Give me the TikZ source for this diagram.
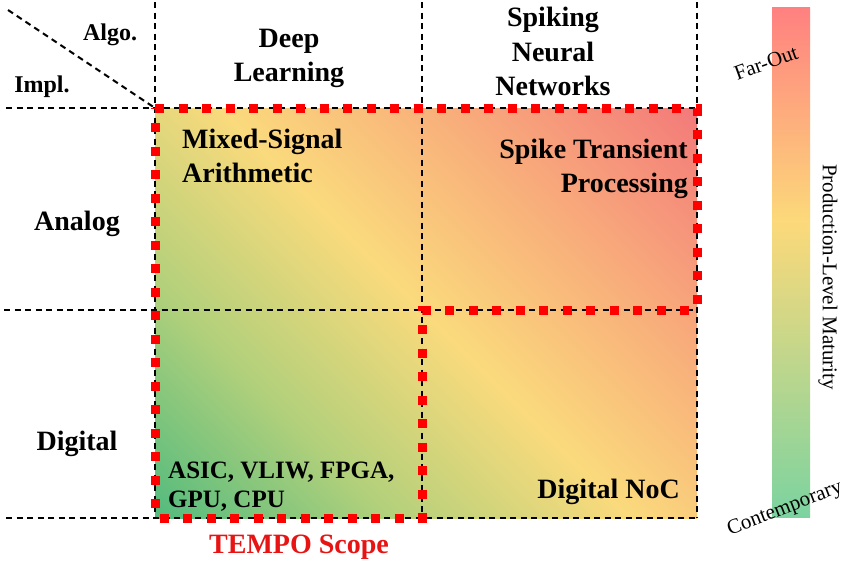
\documentclass[tikz,border=0pt]{standalone}
\usepackage{fontspec}
\setmainfont{Liberation Serif}
\definecolor{mgreen}{HTML}{52BB7E}
\definecolor{ygreen}{HTML}{B2D07B}
\definecolor{myellow}{HTML}{FADA7C}
\definecolor{morange}{HTML}{F8AA7B}
\definecolor{mred}{HTML}{F37A7A}
\definecolor{bgreen}{HTML}{7CD3A0}
\definecolor{byellow}{HTML}{FCD97A}
\definecolor{bred}{HTML}{FF8080}
\definecolor{scopered}{HTML}{FF0000}
\definecolor{scopetext}{HTML}{E81414}
\pgfdeclareverticalshading{barshade}{100bp}{color(0bp)=(bgreen); color(25bp)=(bgreen); color(54bp)=(byellow); color(75bp)=(bred); color(100bp)=(bred)}
\pgfdeclareverticalshading{gridshade}{100bp}{color(0bp)=(mgreen); color(14.6bp)=(mgreen); color(32bp)=(ygreen); color(50bp)=(myellow); color(68bp)=(morange); color(85.4bp)=(mred); color(100bp)=(mred)}
\begin{document}
\begin{tikzpicture}[x=1pt,y=-1pt,
  gridline/.style={black, line width=2pt, dash pattern=on 6pt off 4.5pt},
  scopeline/.style={scopered, line width=9pt, dash pattern=on 9pt off 14.5pt},
  lbl/.style={inner sep=0pt, anchor=base, font=\bfseries\fontsize{28}{34}\selectfont},
  small/.style={inner sep=0pt, font=\bfseries\fontsize{24}{29}\selectfont},
  legend/.style={inner sep=0pt, font=\fontsize{21}{25}\selectfont}]
\useasboundingbox[fill=white] (0,0) rectangle (845,562);
% gradient area
\shade[shading=gridshade, shading angle=-45] (155,108) rectangle (697,518);
% grid
\draw[gridline] (8,10) -- (155,108);
\draw[gridline] (155,2) -- (155,518);
\draw[gridline] (422,2) -- (422,518);
\draw[gridline] (697,2) -- (697,518);
\draw[gridline] (6,108) -- (697,108);
\draw[gridline] (4,310) -- (697,310);
\draw[gridline] (6,518) -- (697,518);
% scope outline
\draw[scopeline] (155,108) -- (697,108) -- (697,310) -- (422,310) -- (422,518) -- (155,518) -- cycle;
% axis labels
\node[small, anchor=base] (algo) at (110,40) {Algo.};
\node[small, anchor=base] (impl) at (42,92) {Impl.};
\node[lbl] (dl) at (289,47) {\begin{tabular}[t]{@{}c@{}}Deep\\Learning\end{tabular}};
\node[lbl] (snn) at (553,27) {\begin{tabular}[t]{@{}c@{}}Spiking\\Neural\\Networks\end{tabular}};
\node[lbl] (analog) at (77,230) {Analog};
\node[lbl] (digital) at (77,450) {Digital};
% cell labels
\node[lbl, anchor=base west] (mixed) at (182,148) {\begin{tabular}[t]{@{}l@{}}Mixed-Signal\\Arithmetic\end{tabular}};
\node[lbl, anchor=base east] (spike) at (688,158) {\begin{tabular}[t]{@{}r@{}}Spike Transient\\Processing\end{tabular}};
\node[inner sep=0pt, anchor=base west, font=\bfseries\fontsize{25}{29}\selectfont] (asic) at (168,478) {\begin{tabular}[t]{@{}l@{}}ASIC, VLIW, FPGA,\\GPU, CPU\end{tabular}};
\node[lbl, anchor=base east] (noc) at (680,498) {Digital NoC};
\node[lbl, text=scopetext] (tempo) at (299,553) {TEMPO Scope};
% legend bar
\shade[shading=barshade] (772,7) rectangle (810,517);
\node[legend, rotate=20] (far) at (766,63) {Far-Out};
\node[legend, rotate=21] (cont) at (785,509) {Contemporary};
\node[legend, rotate=-90] (plm) at (828,277) {Production-Level Maturity};
\end{tikzpicture}
\end{document}
